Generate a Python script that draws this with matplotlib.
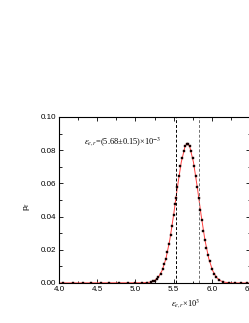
import matplotlib.pyplot as plt
import numpy as np
from matplotlib.ticker import MultipleLocator

# measured points (strain x10^3, probability)
eps_pts = [4.05, 4.18, 4.31, 4.42, 4.55, 4.66, 4.78, 4.90, 5.00, 5.08, 5.15,
           5.20, 5.23, 5.25, 5.28, 5.30, 5.33, 5.36, 5.38, 5.40, 5.42, 5.44,
           5.46, 5.48, 5.50, 5.52, 5.53, 5.55, 5.57, 5.59, 5.61, 5.63, 5.65,
           5.67, 5.69, 5.71, 5.73, 5.75, 5.77, 5.79, 5.81, 5.83, 5.85, 5.87,
           5.89, 5.91, 5.93, 5.95, 5.97, 6.00, 6.03, 6.06, 6.10, 6.15, 6.22,
           6.30, 6.38, 6.46]
p_pts = [0.0, 0.0, 0.0, 0.0, 0.0, 0.0, 0.0, 0.0, 0.0, 0.0, 0.0,
         0.0005, 0.0009, 0.0014, 0.0023, 0.0034, 0.0055, 0.0086, 0.0114, 0.0147, 0.0187, 0.0234,
         0.0286, 0.0345, 0.0409, 0.0476, 0.0509, 0.0577, 0.0642, 0.0702, 0.0753, 0.0795, 0.0823,
         0.0838, 0.0838, 0.0823, 0.0795, 0.0753, 0.0702, 0.0642, 0.0577, 0.0509, 0.0442, 0.0377,
         0.0315, 0.0259, 0.0210, 0.0166, 0.0130, 0.0086, 0.0055, 0.0034, 0.0017, 0.0006, 0.0001,
         0.0, 0.0, 0.0]

# fitted curve
fit_x = [4.0, 5.10, 5.20, 5.25, 5.30, 5.35, 5.40, 5.45, 5.50, 5.55, 5.60, 5.65,
         5.68, 5.71, 5.76, 5.81, 5.86, 5.91, 5.96, 6.01, 6.06, 6.11, 6.16, 6.26, 6.5]
fit_p = [0.0, 0.0001, 0.0005, 0.0014, 0.0034, 0.0075, 0.0147, 0.0259, 0.0409, 0.0577, 0.0727, 0.0823,
         0.0840, 0.0823, 0.0727, 0.0577, 0.0409, 0.0259, 0.0147, 0.0075, 0.0034, 0.0014, 0.0005, 0.0, 0.0]

mean_lo, mean_hi = 5.53, 5.83

plt.rcParams['mathtext.fontset'] = 'stix'

fig = plt.figure(figsize=(2.49, 3.23), dpi=100)
ax = fig.add_axes([0.237, 0.124, 0.767, 0.514])

ax.plot(fit_x, fit_p, color='#ff4040', lw=0.7, zorder=2)
ax.plot(eps_pts, p_pts, 's', color='black', ms=2.1, mec='#300000', mew=0.3, zorder=3)
ax.axvline(mean_lo, color='black', ls=(0, (3, 2)), lw=0.7)
ax.axvline(mean_hi, color='#707070', ls=(0, (3, 2)), lw=0.7)

ax.set_xlim(4.0, 6.5)
ax.set_ylim(0.0, 0.10)
ax.xaxis.set_minor_locator(MultipleLocator(0.25))
ax.yaxis.set_minor_locator(MultipleLocator(0.01))
ax.set_xticks([4.0, 4.5, 5.0, 5.5, 6.0, 6.5])
ax.set_xticklabels(['4.0', '4.5', '5.0', '5.5', '6.0', '6.5'])
ax.set_yticks([0.0, 0.02, 0.04, 0.06, 0.08, 0.10])
ax.set_yticklabels(['0.00', '0.02', '0.04', '0.06', '0.08', '0.10'])
ax.tick_params(which='both', direction='in', top=True, right=True,
               labelsize=5.8, width=0.6, colors='black')
ax.tick_params(axis='x', pad=2.5)
ax.tick_params(axis='y', pad=2.0)
ax.tick_params(which='major', length=3)
ax.tick_params(which='minor', length=1.8)
for lab in ax.get_xticklabels() + ax.get_yticklabels():
    lab.set_family('Liberation Sans')
for s in ax.spines.values():
    s.set_linewidth(0.8)

ax.text(4.33, 0.0845, r'$\epsilon_{e,r}$=(5.68±0.15)×10$^{-3}$',
        family='Liberation Serif', fontsize=6, va='center', ha='left')

ax.set_xlabel(r'$\epsilon_{e,r}$×10$^{3}$', family='Liberation Serif', fontsize=6)
ax.xaxis.set_label_coords(0.665, -0.09)
ax.set_ylabel(r'p$_{\rm f}$', family='Liberation Sans', fontsize=6)
ax.yaxis.set_label_coords(-0.14, 0.46)

fig.savefig('out.png', dpi=100)
